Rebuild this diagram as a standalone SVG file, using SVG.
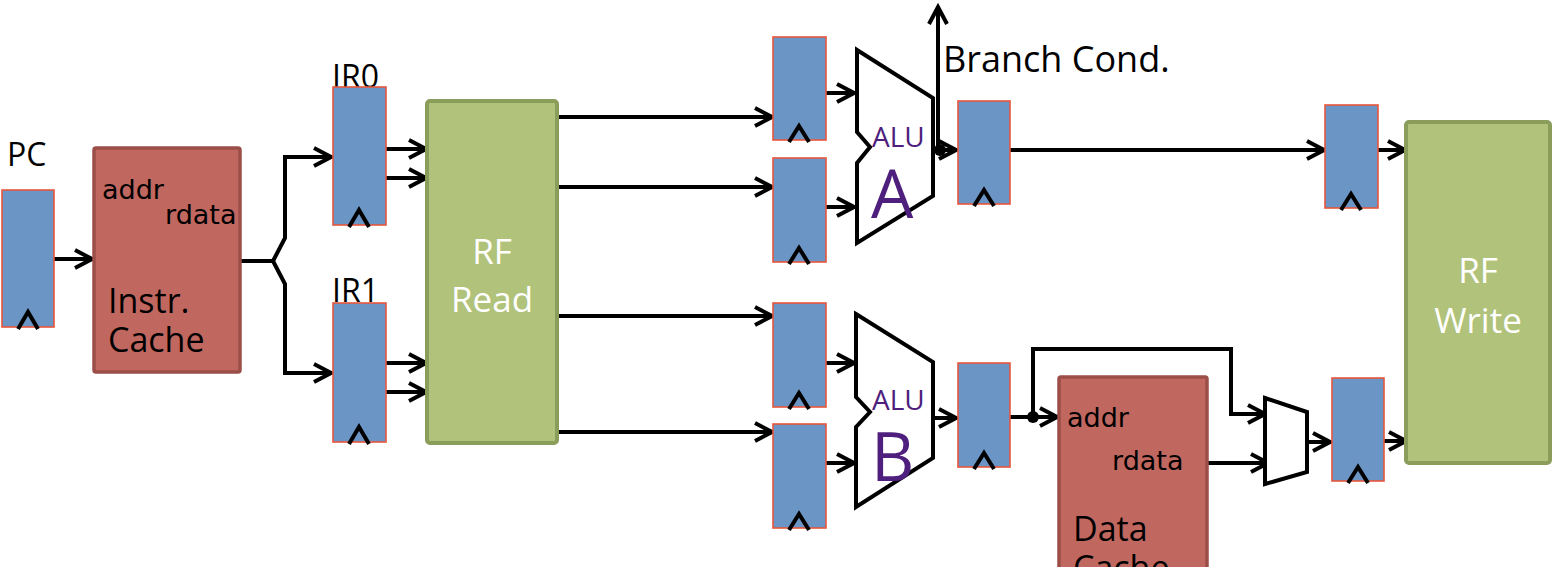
<svg xmlns="http://www.w3.org/2000/svg" width="1554" height="567" viewBox="0 0 1554 567">
<style>
.reg{fill:#6a95c5;stroke:#e8553b;stroke-width:1.6}
.clk{fill:none;stroke:#000;stroke-width:4}
.cache{fill:#c0675f;stroke:#9c4e48;stroke-width:3.5}
.rf{fill:#b1c27a;stroke:#8b9d5a;stroke-width:4}
.alu{fill:#fff;stroke:#000;stroke-width:4;stroke-linejoin:miter}
.w{fill:none;stroke:#000;stroke-width:4}
.a{marker-end:url(#ah)}
.t{font-family:"Open Sans","DejaVu Sans",sans-serif;fill:#000}
.s{font-family:"DejaVu Sans","Open Sans",sans-serif;font-size:27px;fill:#000}
.wt{font-family:"Open Sans","DejaVu Sans",sans-serif;font-size:35px;fill:#fff;text-anchor:middle}
.p{font-family:"Open Sans","DejaVu Sans",sans-serif;fill:#4e1f7c}
</style>
<defs>
<marker id="ah" markerUnits="userSpaceOnUse" markerWidth="24" markerHeight="24" refX="20" refY="11" orient="auto">
<path d="M3,2 L20,11 L3,20" fill="none" stroke="#000" stroke-width="4"/>
</marker>
</defs>

<g id="connectors">
<path class="w a" d="M54,259 L92,259"/>
<path class="w" d="M240,261 L273,261"/>
<path class="w a" d="M273,261 L285,238 L285,157 L331,157"/>
<path class="w a" d="M273,261 L285,284 L285,373 L331,373"/>
<path class="w a" d="M386,149 L426,149"/>
<path class="w a" d="M386,178 L426,178"/>
<path class="w a" d="M386,363 L426,363"/>
<path class="w a" d="M386,392 L426,392"/>
<path class="w a" d="M557,117 L772,117"/>
<path class="w a" d="M557,187 L772,187"/>
<path class="w a" d="M557,316 L772,316"/>
<path class="w a" d="M557,432 L772,432"/>
<path class="w a" d="M826,93 L854,93"/>
<path class="w a" d="M826,207 L854,207"/>
<path class="w a" d="M826,363 L854,363"/>
<path class="w a" d="M826,463 L854,463"/>
<path class="w a" d="M933,150 L956,150"/>
<path class="w a" d="M938,150 L938,7"/>
<circle cx="940" cy="150" r="6" fill="#000"/>
<path class="w a" d="M1010,150 L1324,150"/>
<path class="w a" d="M1378,150 L1405,150"/>
<path class="w a" d="M933,418 L956,418"/>
<path class="w a" d="M1010,417 L1057,417"/>
<circle cx="1033" cy="417" r="6" fill="#000"/>
<path class="w a" d="M1033,417 L1033,349 L1231,349 L1231,414 L1265,414"/>
<path class="w a" d="M1195,463 L1268,463"/>
<path class="w a" d="M1307,442 L1330,442"/>
<path class="w a" d="M1384,441 L1406,441"/>
</g>

<g id="pc">
<text class="t" x="7" y="166" font-size="32">PC</text>
<rect class="reg" x="2" y="190" width="52" height="137"/>
<path class="clk" d="M18,329 L28,312 L38,329"/>
</g>

<g id="instr-cache">
<rect class="cache" x="94" y="148" width="146" height="224" rx="2"/>
<text class="s" x="102" y="199">addr</text>
<text class="s" x="165" y="224">rdata</text>
<text class="t" x="108" y="313" font-size="34">Instr.</text>
<text class="t" x="108" y="352" font-size="34">Cache</text>
</g>

<g id="ir0">
<text class="t" x="332" y="88" font-size="32">IR0</text>
<rect class="reg" x="333" y="87" width="53" height="138"/>
<path class="clk" d="M349,227 L359,210 L369,227"/>
</g>

<g id="ir1">
<text class="t" x="332" y="302" font-size="32">IR1</text>
<rect class="reg" x="333" y="303" width="53" height="139"/>
<path class="clk" d="M349,444 L359,427 L369,444"/>
</g>

<g id="rf-read">
<rect class="rf" x="427" y="101" width="130" height="342" rx="3"/>
<text class="wt" x="492" y="264">RF</text>
<text class="wt" x="492" y="312">Read</text>
</g>

<g id="reg-a1">
<rect class="reg" x="773" y="37" width="53" height="103"/>
<path class="clk" d="M789,142 L799,126 L809,142"/>
</g>
<g id="reg-a2">
<rect class="reg" x="773" y="158" width="53" height="104"/>
<path class="clk" d="M789,264 L799,248 L809,264"/>
</g>
<g id="reg-b1">
<rect class="reg" x="773" y="303" width="53" height="104"/>
<path class="clk" d="M789,409 L799,393 L809,409"/>
</g>
<g id="reg-b2">
<rect class="reg" x="773" y="424" width="53" height="104"/>
<path class="clk" d="M789,530 L799,514 L809,530"/>
</g>

<g id="alu-a">
<path class="alu" d="M857,50 L933,98 L933,196 L857,243 L857,163 L870,147 L857,132 Z"/>
<text class="p" x="872" y="147" font-size="28">ALU</text>
<text class="p" x="871" y="218" font-size="67">A</text>
</g>

<g id="alu-b">
<path class="alu" d="M856,314 L933,362 L933,458 L856,507 L856,427 L870,412 L856,397 Z"/>
<text class="p" x="872" y="410" font-size="28">ALU</text>
<text class="p" x="871" y="481" font-size="67">B</text>
</g>

<g id="branch-label">
<text class="t" x="943" y="72" font-size="36">Branch Cond.</text>
</g>

<g id="reg-a-out">
<rect class="reg" x="958" y="101" width="52" height="103"/>
<path class="clk" d="M974,206 L984,190 L994,206"/>
</g>

<g id="reg-b-out">
<rect class="reg" x="958" y="363" width="52" height="104"/>
<path class="clk" d="M974,469 L984,453 L994,469"/>
</g>

<g id="reg-a-wb">
<rect class="reg" x="1325" y="105" width="53" height="103"/>
<path class="clk" d="M1341,210 L1351,194 L1361,210"/>
</g>

<g id="data-cache">
<rect class="cache" x="1059" y="377" width="148" height="230" rx="2"/>
<text class="s" x="1067" y="427">addr</text>
<text class="s" x="1112" y="470">rdata</text>
<text class="t" x="1073" y="541" font-size="34">Data</text>
<text class="t" x="1073" y="580" font-size="34">Cache</text>
</g>

<g id="mux">
<path class="alu" d="M1265,398 L1307,412 L1307,472 L1265,484 Z"/>
</g>

<g id="reg-b-wb">
<rect class="reg" x="1332" y="378" width="52" height="103"/>
<path class="clk" d="M1348,483 L1358,467 L1368,483"/>
</g>

<g id="rf-write">
<rect class="rf" x="1406" y="122" width="144" height="341" rx="3"/>
<text class="wt" x="1478" y="283">RF</text>
<text class="wt" x="1478" y="333">Write</text>
</g>
</svg>
